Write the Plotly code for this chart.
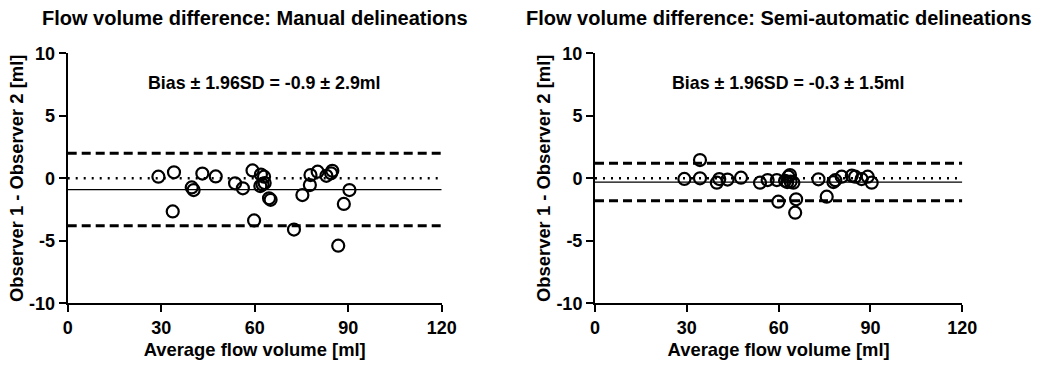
import plotly.graph_objects as go

# Manual delineations: mean of both observers (x) vs. difference (y)
manual_avg = [29.1, 34.1, 33.7, 39.8, 40.4, 43.2, 47.5, 53.7, 56.2, 59.3, 59.8,
              62.0, 63.0, 63.2, 61.8, 62.5, 64.6, 65.1, 72.6, 75.3, 77.9, 77.7,
              80.2, 83.0, 84.5, 84.9, 86.8, 88.6, 90.4]
manual_diff = [0.13, 0.48, -2.65, -0.73, -0.94, 0.38, 0.15, -0.40, -0.80, 0.63, -3.37,
               0.30, 0.13, -0.38, -0.62, -0.50, -1.60, -1.72, -4.10, -1.34, 0.26, -0.54,
               0.53, 0.20, 0.40, 0.60, -5.39, -2.05, -0.94]
manual_bias, manual_loa = -0.9, 2.9

# Semi-automatic delineations
semi_avg = [29.2, 34.3, 34.3, 39.8, 40.6, 43.3, 47.7, 53.9, 56.4, 59.4, 59.9,
            62.1, 63.2, 63.7, 63.9, 62.8, 64.8, 65.7, 65.4, 73.0, 75.7, 77.9,
            78.5, 80.6, 83.9, 85.0, 87.1, 89.1, 90.4]
semi_diff = [-0.05, 1.46, 0.00, -0.35, -0.06, -0.10, 0.05, -0.35, -0.14, -0.14, -1.87,
             -0.20, 0.13, 0.26, -0.27, -0.30, -0.35, -1.68, -2.75, -0.08, -1.47, -0.30,
             -0.15, 0.13, 0.21, 0.13, -0.06, 0.13, -0.35]
semi_bias, semi_loa = -0.3, 1.5

titles = ["Flow volume difference: Manual delineations",
          "Flow volume difference: Semi-automatic delineations"]
x_title = "Average flow volume [ml]"
y_title = "Observer 1 - Observer 2 [ml]"
x_ticks = [0, 30, 60, 90, 120]
y_ticks = [-10, -5, 0, 5, 10]

W, H = 1053, 365
FONT = "Arial, Liberation Sans, Helvetica, sans-serif"

fig = go.Figure()

panels = [
    ("x", "y", manual_avg, manual_diff, manual_bias, manual_loa),
    ("x2", "y2", semi_avg, semi_diff, semi_bias, semi_loa),
]
x_span = [0, 120]
for xa, ya, xs, ys, bias, loa in panels:
    # upper / lower limits of agreement
    for lvl in (bias + loa, bias - loa):
        fig.add_trace(go.Scatter(x=x_span, y=[lvl, lvl], mode="lines", xaxis=xa, yaxis=ya,
                                 line=dict(color="black", width=3, dash="9px,5px"),
                                 hoverinfo="skip", showlegend=False))
    # zero reference
    fig.add_trace(go.Scatter(x=x_span, y=[0, 0], mode="lines", xaxis=xa, yaxis=ya,
                             line=dict(color="black", width=2.5, dash="2px,6px"),
                             hoverinfo="skip", showlegend=False))
    # bias
    fig.add_trace(go.Scatter(x=x_span, y=[bias, bias], mode="lines", xaxis=xa, yaxis=ya,
                             line=dict(color="black", width=1.2),
                             hoverinfo="skip", showlegend=False))
    fig.add_trace(go.Scatter(x=xs, y=ys, mode="markers", xaxis=xa, yaxis=ya,
                             marker=dict(symbol="circle-open", size=12, color="black",
                                         line=dict(color="black", width=2.2)),
                             cliponaxis=False, showlegend=False))

dom_left = [67.7 / W, 441.7 / W]
dom_right = [595.0 / W, 962.3 / W]
dom_y = [1 - 303.3 / H, 1 - 53.3 / H]

tickfont = dict(family=FONT, size=18, color="black", weight="bold")
titlefont = dict(family=FONT, size=18.4, color="black", weight="bold")

def xaxis_cfg(domain, anchor):
    return dict(domain=domain, anchor=anchor, range=[0, 120], tickvals=x_ticks,
                ticktext=[str(v) for v in x_ticks], automargin=False,
                showline=True, linecolor="black", linewidth=2, mirror=False,
                ticks="outside", ticklen=7, tickwidth=2, tickcolor="black",
                showgrid=False, zeroline=False, tickfont=tickfont,
                title=dict(text=x_title, font=titlefont, standoff=6))

def yaxis_cfg(anchor):
    return dict(domain=dom_y, anchor=anchor, range=[-10, 10], tickvals=y_ticks,
                ticktext=[str(v) for v in y_ticks], automargin=False,
                showline=True, linecolor="black", linewidth=2, mirror=False,
                ticks="outside", ticklen=7, tickwidth=2, tickcolor="black",
                showgrid=False, zeroline=False, tickfont=tickfont,
                title=dict(text=y_title, font=titlefont, standoff=1))

annotations = []
for dom, t in zip((dom_left, dom_right), titles):
    annotations.append(dict(text=t, x=(dom[0] + dom[1]) / 2, y=1 - 18 / H,
                            xref="paper", yref="paper", showarrow=False,
                            xanchor="center", yanchor="middle",
                            font=dict(family=FONT, size=20, color="black", weight="bold")))
for (xr, yr), bias, loa in ((("x", "y"), manual_bias, manual_loa),
                            (("x2", "y2"), semi_bias, semi_loa)):
    annotations.append(dict(text=f"Bias \u00b1 1.96SD = {bias} \u00b1 {loa}ml",
                            x=63.3, y=7.6, xref=xr, yref=yr, showarrow=False,
                            xanchor="center", yanchor="middle",
                            font=dict(family=FONT, size=17.8, color="black", weight="bold")))

fig.update_layout(
    width=W, height=H,
    margin=dict(l=0, r=0, t=0, b=0),
    paper_bgcolor="white", plot_bgcolor="white",
    xaxis=xaxis_cfg(dom_left, "y"),
    yaxis=yaxis_cfg("x"),
    xaxis2=xaxis_cfg(dom_right, "y2"),
    yaxis2=yaxis_cfg("x2"),
    annotations=annotations,
    showlegend=False,
)

fig.write_html("out.html", config={"displayModeBar": False})
